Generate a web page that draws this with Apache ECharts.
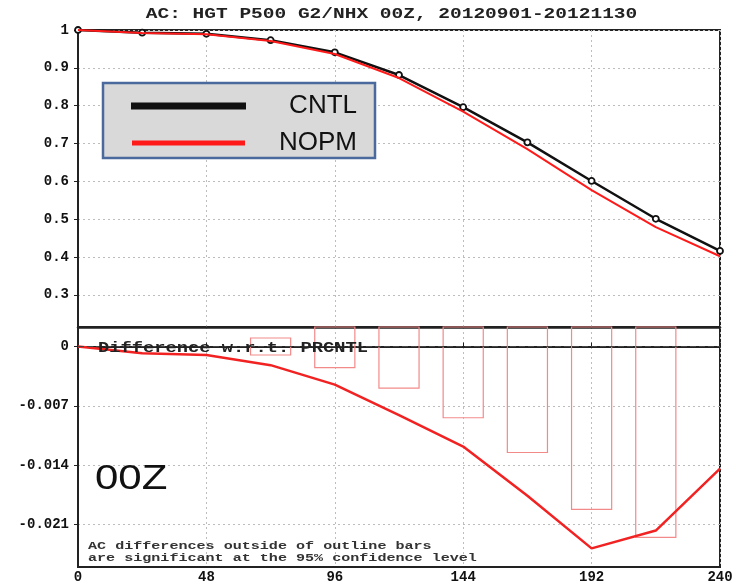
<!DOCTYPE html>
<html>
<head>
<meta charset="utf-8">
<style>
  html, body { margin: 0; padding: 0; background: #fff; }
  #chart { width: 736px; height: 586px; }
</style>
<script src="https://cdn.jsdelivr.net/npm/echarts@6/dist/echarts.min.js"></script>
</head>
<body>
<div id="chart"></div>
<script>
// ---- data ----
const hours = [0, 24, 48, 72, 96, 120, 144, 168, 192, 216, 240];
const cntl  = [1, 0.993, 0.99, 0.973, 0.941, 0.881, 0.796, 0.703, 0.601, 0.501, 0.416];
const nopm  = [1, 0.992, 0.989, 0.971, 0.9365, 0.873, 0.784, 0.685, 0.577, 0.479, 0.402];
const diff  = [0, -0.0008, -0.001, -0.0022, -0.0045, -0.0081, -0.0118, -0.0176, -0.0238, -0.0217, -0.0144];
const ciHours = [72, 96, 120, 144, 168, 192, 216];
const ciHalf  = [0.001, 0.0025, 0.0049, 0.0084, 0.0125, 0.0192, 0.0225];
const hourTicks = [0, 48, 96, 144, 192, 240];
const acTicks = [0.3, 0.4, 0.5, 0.6, 0.7, 0.8, 0.9, 1];
const diffTicks = [-0.021, -0.014, -0.007, 0];
const titleText = 'AC: HGT P500 G2/NHX 00Z, 20120901-20121130';
const diffLabel = 'Difference w.r.t. PRCNTL';
const noteLines = ['AC differences outside of outline bars', 'are significant at the 95% confidence level'];
const cycleLabel = '00Z';

// ---- layout / style ----
const acMin = 0.215, acMax = 1;
const diffMin = -0.026, diffMax = 0.0023;
const boxHalfHours = 7.5;
const mono = 'Liberation Mono';
const axisColor = '#222';
const gridLine = { show: true, lineStyle: { type: [2, 3], color: '#bdbdbd', width: 1 } };
const labelFont = { fontFamily: mono, fontWeight: 'bold', fontSize: 14, color: '#111' };

const chart = echarts.init(document.getElementById('chart'), null, { renderer: 'canvas' });

const option = {
  backgroundColor: '#fff',
  animation: false,
  grid: [
    { left: 78, right: 16, top: 30, height: 297, show: true, borderColor: axisColor, borderWidth: 2, backgroundColor: '#fff' },
    { left: 78, right: 16, top: 327, bottom: 19, show: true, borderColor: axisColor, borderWidth: 2, backgroundColor: '#fff' }
  ],
  xAxis: [
    { gridIndex: 0, type: 'value', min: 0, max: 240, interval: 48,
      axisLine: { show: true, lineStyle: { color: axisColor, width: 2.5 } },
      axisTick: { show: false }, axisLabel: { show: false }, splitLine: gridLine },
    { gridIndex: 1, type: 'value', min: 0, max: 240, interval: 48,
      axisLine: { show: true, lineStyle: { color: axisColor, width: 2 } },
      axisTick: { show: true, inside: true, length: 4, lineStyle: { color: axisColor } },
      axisLabel: Object.assign({ margin: 3, customValues: hourTicks }, labelFont),
      splitLine: gridLine }
  ],
  yAxis: [
    { gridIndex: 0, type: 'value', min: acMin, max: acMax,
      axisLine: { show: true, lineStyle: { color: axisColor, width: 2 } },
      axisTick: { show: true, length: 4, customValues: acTicks, lineStyle: { color: axisColor } },
      axisLabel: Object.assign({ margin: 9, customValues: acTicks, formatter: v => String(+v.toFixed(3)) }, labelFont),
      splitLine: gridLine },
    { gridIndex: 1, type: 'value', min: diffMin, max: diffMax,
      axisLine: { show: true, lineStyle: { color: axisColor, width: 2 } },
      axisTick: { show: true, length: 4, customValues: diffTicks, lineStyle: { color: axisColor } },
      axisLabel: Object.assign({ margin: 9, customValues: diffTicks, formatter: v => String(+v.toFixed(3)) }, labelFont),
      splitLine: gridLine }
  ],
  legend: {
    data: [
      { name: 'CNTL', itemStyle: { color: '#111' } },
      { name: 'NOPM', itemStyle: { color: '#ff1a1a' } }
    ],
    orient: 'vertical', left: 103, top: 83,
    icon: 'rect', itemWidth: 113, itemHeight: 5, itemGap: 11,
    padding: [10, 18, 2, 28],
    backgroundColor: '#d9d9d9', borderColor: '#4a6a9e', borderWidth: 2.5,
    selectedMode: false,
    formatter: '{a|{name}}',
    textStyle: { rich: { a: { width: 107, align: 'right', fontSize: 26, lineHeight: 30, fontFamily: 'Liberation Sans', color: '#111' } } }
  },
  series: [
    { name: 'CNTL', type: 'line', xAxisIndex: 0, yAxisIndex: 0,
      data: hours.map((h, i) => [h, cntl[i]]),
      showAllSymbol: true, symbol: 'circle', symbolSize: 6,
      lineStyle: { color: '#111', width: 2.5 },
      itemStyle: { color: '#fff', borderColor: '#111', borderWidth: 1.8 }, z: 2 },
    { name: 'NOPM', type: 'line', xAxisIndex: 0, yAxisIndex: 0,
      data: hours.map((h, i) => [h, nopm[i]]),
      symbol: 'none', lineStyle: { color: '#ff1a1a', width: 2 }, itemStyle: { color: '#ff1a1a' }, z: 3 },
    { name: 'CI', type: 'custom', xAxisIndex: 1, yAxisIndex: 1,
      data: ciHours.map((h, i) => [h, ciHalf[i]]),
      renderItem: (params, api) => {
        const h = api.value(0), c = api.value(1);
        const p1 = api.coord([h - boxHalfHours, Math.min(c, diffMax)]);
        const p2 = api.coord([h + boxHalfHours, -c]);
        return { type: 'rect',
          shape: { x: p1[0], y: p1[1], width: p2[0] - p1[0], height: p2[1] - p1[1] },
          style: { fill: 'none', stroke: '#f38a8a', lineWidth: 1.2 } };
      }, z: 2 },
    { name: 'NOPM - CNTL', type: 'line', xAxisIndex: 1, yAxisIndex: 1,
      data: hours.map((h, i) => [h, diff[i]]),
      symbol: 'none', lineStyle: { color: '#f22222', width: 2.5 }, z: 3,
      markLine: { silent: true, symbol: 'none', label: { show: false },
        lineStyle: { type: [6, 3], color: '#444', width: 1 },
        data: [{ yAxis: 0 }] } }
  ],
  graphic: [
    { type: 'text', x: 391.5, y: 14, scaleX: 1.3,
      style: { text: titleText, font: 'bold 15px "Liberation Mono"', fill: '#222', textAlign: 'center', textVerticalAlign: 'middle' } },
    { type: 'text', x: 98, y: 348, scaleX: 1.25, z: 10,
      style: { text: diffLabel, font: 'bold 15px "Liberation Mono"', fill: '#222', textAlign: 'left', textVerticalAlign: 'middle' } },
    { type: 'text', x: 88, y: 546.5, scaleX: 1.37, z: 10,
      style: { text: noteLines[0], font: 'bold 11px "Liberation Mono"', fill: '#333', textAlign: 'left', textVerticalAlign: 'middle' } },
    { type: 'text', x: 88, y: 558, scaleX: 1.37, z: 10,
      style: { text: noteLines[1], font: 'bold 11px "Liberation Mono"', fill: '#333', textAlign: 'left', textVerticalAlign: 'middle' } },
    { type: 'text', x: 95, y: 479, scaleX: 1.2, z: 10,
      style: { text: cycleLabel, font: '35px "Liberation Sans"', fill: '#111', textAlign: 'left', textVerticalAlign: 'middle' } }
  ]
};
chart.setOption(option);
</script>
</body>
</html>
